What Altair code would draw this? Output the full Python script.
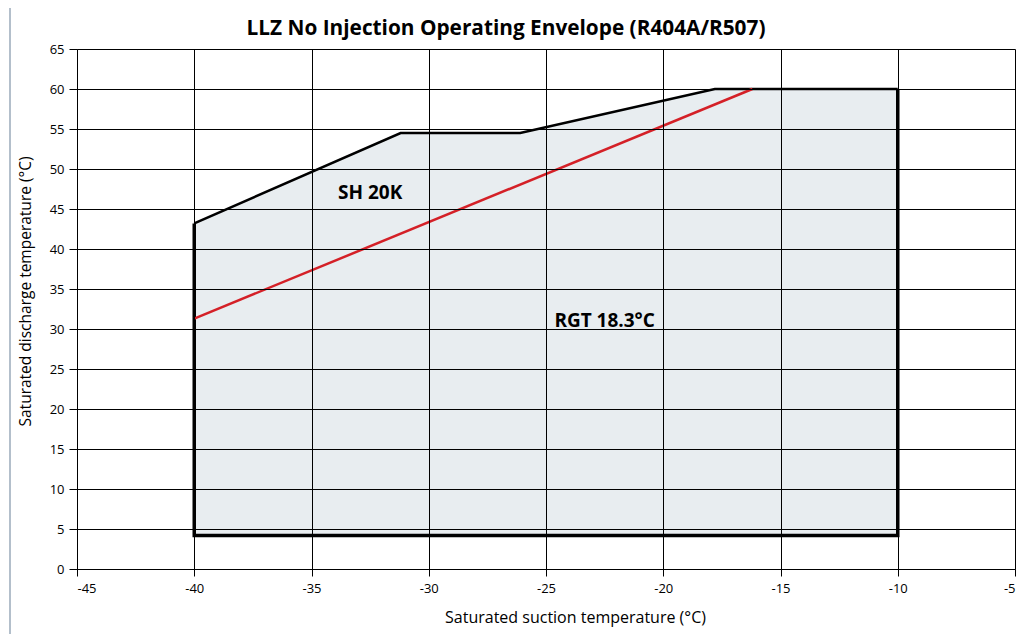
import altair as alt
import pandas as pd

# Envelope boundary (suction °C, discharge °C)
env_x = [-40, -31.2, -26.1, -17.8, -10]
env_top = [43.2, 54.5, 54.5, 60.0, 60.0]
env_bottom = 4.2

# Outline: upper edge path and the side/bottom path
top_x = [-40, -31.2, -26.1, -17.8, -10]
top_y = [43.2, 54.5, 54.5, 60.0, 60.0]
side_x = [-40, -40, -10, -10]
side_y = [43.2, 4.2, 4.2, 60.0]

# Red line (RGT 18.3°C / SH 20K limit)
red_x = [-40, -16.2]
red_y = [31.3, 60.0]

# Labels
lab_text = ["SH 20K", "RGT 18.3°C"]
lab_x = [-32.5, -22.5]
lab_y = [47.0, 31.0]

title_text = "LLZ No Injection Operating Envelope (R404A/R507)"
x_title = "Saturated suction temperature (°C)"
y_title = "Saturated discharge temperature (°C)"

x_ticks = [-45, -40, -35, -30, -25, -20, -15, -10, -5]
y_ticks = [0, 5, 10, 15, 20, 25, 30, 35, 40, 45, 50, 55, 60, 65]

FONT = "Open Sans"

area_df = pd.DataFrame({"x": env_x, "y": env_top, "y2": [env_bottom] * len(env_x)})
top_df = pd.DataFrame({"x": top_x, "y": top_y, "o": list(range(len(top_x)))})
side_df = pd.DataFrame({"x": side_x, "y": side_y, "o": list(range(len(side_x)))})
red_df = pd.DataFrame({"x": red_x, "y": red_y})
lab_df = pd.DataFrame({"t": lab_text, "x": lab_x, "y": lab_y})
title_df = pd.DataFrame({"t": [title_text]})

xs = alt.Scale(domain=[-45, -5], nice=False, zero=False)
ys = alt.Scale(domain=[0, 65], nice=False, zero=False)

xaxis = alt.Axis(values=x_ticks, title=x_title, labelExpr="toString(datum.value)",
                 grid=True, gridColor="#000000", gridWidth=1, zindex=1,
                 domainColor="#000000", tickColor="#000000", tickSize=7,
                 labelFontSize=13, labelColor="#000000", labelPadding=6, labelOverlap=False,
                 titleFontSize=16, titleFontWeight="normal", titleColor="#000000",
                 titleX=498, titleY=40, labelFont=FONT, titleFont=FONT)
yaxis = alt.Axis(values=y_ticks, title=y_title, labelExpr="toString(datum.value)",
                 grid=True, gridColor="#000000", gridWidth=1, zindex=1,
                 domainColor="#000000", tickColor="#000000", tickSize=8,
                 labelFontSize=13, labelColor="#000000", labelPadding=5, labelOverlap=False,
                 titleFontSize=15.5, titleFontWeight="normal", titleColor="#000000",
                 titleX=-44, titleY=242, labelFont=FONT, titleFont=FONT)

X = alt.X("x:Q", scale=xs, axis=xaxis)
Y = alt.Y("y:Q", scale=ys, axis=yaxis)

frame = alt.Chart(pd.DataFrame({"a": [0]})).mark_rect(
    fillOpacity=0, stroke="#9aaabb", strokeWidth=1.5
).encode(x=alt.value(-67), x2=alt.value(960), y=alt.value(-43), y2=alt.value(600))

title = alt.Chart(title_df).mark_text(
    font=FONT, fontSize=20.8, fontWeight="bold", color="#000000", baseline="alphabetic"
).encode(x=alt.value(429), y=alt.value(-14), text="t:N")

area = alt.Chart(area_df).mark_area(color="#e8edf0", opacity=1).encode(
    x=X, y=Y, y2="y2:Q",
)

top_line = alt.Chart(top_df).mark_line(color="#000000", strokeWidth=2.5).encode(
    x=X, y=Y, order="o:Q"
)
side_line = alt.Chart(side_df).mark_line(color="#000000", strokeWidth=3.5).encode(
    x=X, y=Y, order="o:Q"
)

red = alt.Chart(red_df).mark_line(color="#d42027", strokeWidth=2.5).encode(
    x=X, y=Y
)

labels = alt.Chart(lab_df).mark_text(
    font=FONT, fontSize=19, fontWeight="bold", color="#000000"
).encode(x=X, y=Y, text="t:N")

chart = alt.layer(frame, area, top_line, side_line, red, labels, title).properties(
    width=938, height=520,
    padding={"left": 69, "top": 41, "right": 6, "bottom": 65},
    autosize=alt.AutoSizeParams(type="none"),
).configure_view(stroke=None)

chart.save("out.html", embed_options={"renderer": "svg", "actions": False})
